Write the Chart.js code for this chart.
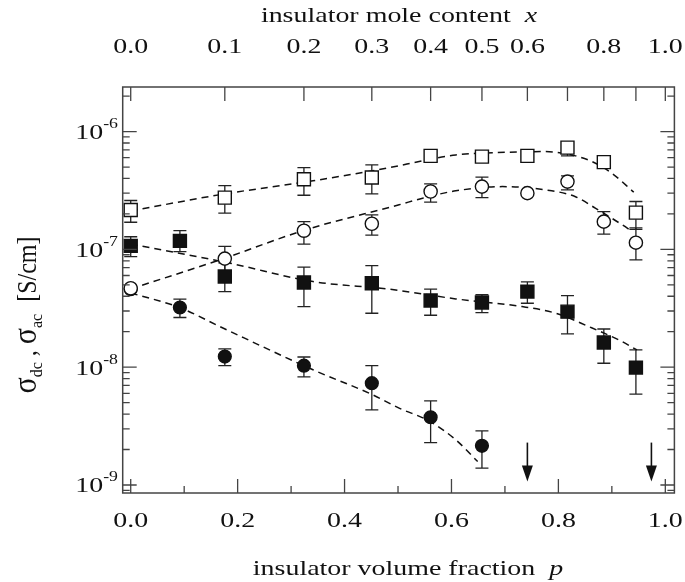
<!DOCTYPE html>
<html>
<head>
<meta charset="utf-8">
<script src="https://cdn.jsdelivr.net/npm/chart.js@4.4.1/dist/chart.umd.min.js"></script>
<style>
  html, body { margin: 0; padding: 0; background: #fff; }
</style>
</head>
<body>
<canvas id="chart" width="685" height="582"></canvas>
<script>
// axis ranges (p = insulator volume fraction, sigma in S/cm)
const X_MIN = -0.015, X_MAX = 1.017
const Y_MIN = 8.55e-10, Y_MAX = 2.39e-6

// bottom axis ticks
const bottomLabels = [0, 0.2, 0.4, 0.6, 0.8, 1.0]
const bottomMinor = [0.1, 0.3, 0.5, 0.7, 0.9]
// top axis: mole content x, placed at its p position
const topTickP = [0, 0.176, 0.324, 0.451, 0.561, 0.657, 0.742, 0.817, 0.885, 0.945, 1.0]
const topTickLabels = ['0.0', '0.1', '0.2', '0.3', '0.4', '0.5', '0.6', '', '0.8', '', '1.0']
// y decades
const yMajor = [1e-9, 1e-8, 1e-7, 1e-6]
const yMajorExp = ['-9', '-8', '-7', '-6']

// open squares
const openSqP = [0, 0.176, 0.324, 0.451, 0.561, 0.657, 0.742, 0.817, 0.885, 0.945]
const openSqV = [2.16e-7, 2.75e-7, 3.94e-7, 4.07e-7, 6.22e-7, 6.13e-7, 6.22e-7, 7.31e-7, 5.5e-7, 2.05e-7]
const openSqHi = [2.6e-7, 3.48e-7, 4.95e-7, 5.22e-7, null, null, null, 8.22e-7, null, 2.55e-7]
const openSqLo = [1.7e-7, 2.03e-7, 2.88e-7, 2.96e-7, null, null, null, 6.22e-7, null, 1.48e-7]

// open circles
const openCiP = [0, 0.176, 0.324, 0.451, 0.561, 0.657, 0.742, 0.817, 0.885, 0.945]
const openCiV = [4.68e-8, 8.35e-8, 1.44e-7, 1.65e-7, 3.1e-7, 3.41e-7, 3.0e-7, 3.76e-7, 1.72e-7, 1.14e-7]
const openCiHi = [null, 1.06e-7, 1.72e-7, 1.96e-7, 3.6e-7, 4.1e-7, null, 4.21e-7, 2.09e-7, 1.52e-7]
const openCiLo = [null, 6.45e-8, 1.11e-7, 1.32e-7, 2.52e-7, 2.75e-7, null, 3.2e-7, 1.35e-7, 8.15e-8]

// filled squares
const fillSqP = [0, 0.092, 0.176, 0.324, 0.451, 0.561, 0.657, 0.742, 0.817, 0.885, 0.945]
const fillSqV = [1.07e-7, 1.18e-7, 5.88e-8, 5.23e-8, 5.16e-8, 3.68e-8, 3.54e-8, 4.38e-8, 2.96e-8, 1.62e-8, 9.92e-9]
const fillSqHi = [1.28e-7, 1.44e-7, 7.68e-8, 7.06e-8, 7.29e-8, 4.59e-8, 4.13e-8, 5.3e-8, 4.05e-8, 2.11e-8, 1.4e-8]
const fillSqLo = [8.69e-8, 9.58e-8, 4.38e-8, 3.27e-8, 2.87e-8, 2.76e-8, 2.91e-8, 3.49e-8, 1.92e-8, 1.08e-8, 5.9e-9]

// filled circles
const fillCiP = [0, 0.092, 0.176, 0.324, 0.451, 0.561, 0.657]
const fillCiV = [4.6e-8, 3.21e-8, 1.23e-8, 1.03e-8, 7.31e-9, 3.76e-9, 2.15e-9]
const fillCiHi = [null, 3.78e-8, 1.43e-8, 1.22e-8, 1.03e-8, 5.17e-9, 2.88e-9]
const fillCiLo = [null, 2.64e-8, 1.03e-8, 8.27e-9, 4.34e-9, 2.29e-9, 1.39e-9]

// dashed fit curves
const fitOpenSqP = [0, 0.176, 0.341, 0.484, 0.546, 0.608, 0.708, 0.776, 0.832, 0.863, 0.900, 0.941]
const fitOpenSqV = [2.12e-7, 2.96e-7, 3.82e-7, 4.94e-7, 5.64e-7, 6.34e-7, 6.68e-7, 6.76e-7, 6.22e-7, 5.56e-7, 4.43e-7, 3.06e-7]
const fitOpenCiP = [0, 0.167, 0.328, 0.502, 0.546, 0.608, 0.695, 0.776, 0.832, 0.869, 0.919, 0.938]
const fitOpenCiV = [4.62e-8, 8.15e-8, 1.47e-7, 2.39e-7, 2.72e-7, 3.14e-7, 3.41e-7, 3.2e-7, 2.8e-7, 2.24e-7, 1.62e-7, 1.42e-7]
const fitFillSqP = [0, 0.185, 0.341, 0.484, 0.608, 0.732, 0.795, 0.857, 0.919, 0.947]
const fitFillSqV = [1.11e-7, 7.64e-8, 5.33e-8, 4.59e-8, 3.8e-8, 3.27e-8, 2.87e-8, 2.21e-8, 1.65e-8, 1.4e-8]
const fitFillCiP = [0, 0.092, 0.167, 0.341, 0.453, 0.502, 0.558, 0.608, 0.649]
const fitFillCiV = [4.27e-8, 3.2e-8, 2.21e-8, 9.5e-9, 5.82e-9, 4.49e-9, 3.5e-9, 2.42e-9, 1.58e-9]

// arrows marking the thresholds
const arrowP = [0.742, 0.974]
const arrowFrom = 2.29e-9, arrowTo = 1.07e-9

const INK = '#111'
const AXIS = '#444'
const SERIF = '"Liberation Serif", "DejaVu Serif", serif'
const SX = 1.27 // the figure text is a bit wide

function pts(xs, ys) {
    return xs.map((x, i) => ({ x: x, y: ys[i] }))
}

function markers(xs, ys, hi, lo, style, r, fill, order) {
    return {
        type: 'scatter',
        data: pts(xs, ys),
        errHi: hi, errLo: lo,
        pointStyle: style,
        pointRadius: r,
        borderColor: INK,
        backgroundColor: fill,
        borderWidth: 1.4,
        order: order
    }
}

function fit(xs, ys) {
    return {
        type: 'line',
        data: pts(xs, ys),
        borderColor: INK,
        borderWidth: 1.5,
        borderDash: [7, 5],
        pointRadius: 0,
        fill: false,
        cubicInterpolationMode: 'monotone',
        order: 10
    }
}

// draw text runs [text, fontSize, dy, italic] with horizontal stretch
function drawRuns(ctx, runs, x, y, align, sx) {
    let w = 0
    runs.forEach(r => {
        ctx.font = (r[3] ? 'italic ' : '') + r[1] + 'px ' + SERIF
        w += ctx.measureText(r[0]).width * sx
    })
    let cx = align === 'center' ? x - w / 2 : align === 'right' ? x - w : x
    runs.forEach(r => {
        ctx.font = (r[3] ? 'italic ' : '') + r[1] + 'px ' + SERIF
        const rw = ctx.measureText(r[0]).width
        ctx.save()
        ctx.translate(cx, y + r[2])
        ctx.scale(sx, 1)
        ctx.textAlign = 'left'
        ctx.textBaseline = 'alphabetic'
        ctx.fillText(r[0], 0, 0)
        ctx.restore()
        cx += rw * sx
    })
}

const decor = {
    id: 'decor',
    beforeDatasetsDraw(chart) {
        const { ctx, scales: { x, y } } = chart
        ctx.save()
        ctx.strokeStyle = '#222'
        ctx.lineWidth = 1.3
        chart.data.datasets.forEach(ds => {
            if (!ds.errHi) return
            ds.data.forEach((pt, i) => {
                const hi = ds.errHi[i], lo = ds.errLo[i]
                if (hi == null) return
                const px = x.getPixelForValue(pt.x)
                const yt = y.getPixelForValue(hi), yb = y.getPixelForValue(lo)
                ctx.beginPath()
                ctx.moveTo(px, yt); ctx.lineTo(px, yb)
                ctx.moveTo(px - 6.5, yt); ctx.lineTo(px + 6.5, yt)
                ctx.moveTo(px - 6.5, yb); ctx.lineTo(px + 6.5, yb)
                ctx.stroke()
            })
        })
        ctx.restore()
    },
    afterDraw(chart) {
        const { ctx, chartArea: a, scales: { x, y } } = chart
        ctx.save()

        // arrows
        ctx.strokeStyle = INK
        ctx.fillStyle = INK
        ctx.lineWidth = 1.6
        arrowP.forEach(p => {
            const px = x.getPixelForValue(p)
            const y0 = y.getPixelForValue(arrowFrom), y1 = y.getPixelForValue(arrowTo)
            ctx.beginPath()
            ctx.moveTo(px, y0); ctx.lineTo(px, y1 - 12)
            ctx.stroke()
            ctx.beginPath()
            ctx.moveTo(px - 5.5, y1 - 16); ctx.lineTo(px + 5.5, y1 - 16); ctx.lineTo(px, y1)
            ctx.closePath()
            ctx.fill()
        })

        // frame
        ctx.strokeStyle = AXIS
        ctx.lineWidth = 1.5
        ctx.strokeRect(a.left, a.top, a.right - a.left, a.bottom - a.top)

        // inward ticks
        ctx.lineWidth = 1.3
        ctx.beginPath()
        const vTick = (px, yEdge, len) => { ctx.moveTo(px, yEdge); ctx.lineTo(px, yEdge + len) }
        const hTick = (py, xEdge, len) => { ctx.moveTo(xEdge, py); ctx.lineTo(xEdge + len, py) }
        bottomLabels.forEach(v => vTick(x.getPixelForValue(v), a.bottom, -14))
        bottomMinor.forEach(v => vTick(x.getPixelForValue(v), a.bottom, -7))
        topTickP.forEach(v => vTick(x.getPixelForValue(v), a.top, 14))
        for (let d = -10; d <= -6; d++) {
            for (let k = 1; k <= 9; k++) {
                const v = k * Math.pow(10, d)
                if (v < Y_MIN || v > Y_MAX) continue
                const py = y.getPixelForValue(v)
                const len = k === 1 ? 14 : 7
                hTick(py, a.left, len)
                hTick(py, a.right, -len)
            }
        }
        ctx.stroke()

        // tick labels
        ctx.fillStyle = INK
        bottomLabels.forEach(v => {
            drawRuns(ctx, [[v.toFixed(1), 22, 0]], x.getPixelForValue(v), 527, 'center', SX)
        })
        topTickP.forEach((v, i) => {
            if (!topTickLabels[i]) return
            drawRuns(ctx, [[topTickLabels[i], 22, 0]], x.getPixelForValue(v), 53, 'center', SX)
        })
        yMajor.forEach((v, i) => {
            const py = y.getPixelForValue(v)
            drawRuns(ctx, [['10', 22, 0], [yMajorExp[i], 14, -11]], 118, py + 7.5, 'right', SX)
        })

        // axis titles
        drawRuns(ctx, [['insulator mole content  ', 22, 0], ['x', 22, 0, true]], 399, 22, 'center', SX)
        drawRuns(ctx, [['insulator volume fraction  ', 22, 0], ['p', 22, 0, true]], 408, 575, 'center', SX)

        ctx.save()
        ctx.translate(36, 315)
        ctx.rotate(-Math.PI / 2)
        ctx.scale(1, 1.1)
        drawRuns(ctx, [['\u03c3', 30, 0], ['dc', 16, 5], [' , ', 24, 0], ['\u03c3', 30, 0], ['ac', 16, 5], ['  [S/cm]', 24, 0]], 0, 0, 'center', 1)
        ctx.restore()

        ctx.restore()
    }
}

new Chart(document.getElementById('chart'), {
    type: 'scatter',
    data: {
        datasets: [
            fit(fitOpenSqP, fitOpenSqV),
            fit(fitOpenCiP, fitOpenCiV),
            fit(fitFillSqP, fitFillSqV),
            fit(fitFillCiP, fitFillCiV),
            markers(fillCiP, fillCiV, fillCiHi, fillCiLo, 'circle', 6.4, INK, 4),
            markers(fillSqP, fillSqV, fillSqHi, fillSqLo, 'rect', 9.2, INK, 3),
            markers(openSqP, openSqV, openSqHi, openSqLo, 'rect', 9.2, '#fff', 2),
            markers(openCiP, openCiV, openCiHi, openCiLo, 'circle', 6.6, '#fff', 1)
        ]
    },
    options: {
        responsive: false,
        animation: false,
        events: [],
        layout: { padding: { top: 0, right: 9, bottom: 0, left: 0 } },
        plugins: { legend: { display: false }, tooltip: { enabled: false } },
        scales: {
            x: {
                type: 'linear', position: 'bottom', min: X_MIN, max: X_MAX,
                grid: { display: false, drawTicks: false }, border: { display: false },
                ticks: { display: false },
                afterFit: s => { s.height = 89 }
            },
            x2: {
                type: 'linear', position: 'top', min: X_MIN, max: X_MAX,
                grid: { display: false, drawTicks: false }, border: { display: false },
                ticks: { display: false },
                afterFit: s => { s.height = 87 }
            },
            y: {
                type: 'logarithmic', position: 'left', min: Y_MIN, max: Y_MAX,
                grid: { display: false, drawTicks: false }, border: { display: false },
                ticks: { display: false },
                afterFit: s => { s.width = 122.7 }
            }
        }
    },
    plugins: [decor]
})
</script>
</body>
</html>
